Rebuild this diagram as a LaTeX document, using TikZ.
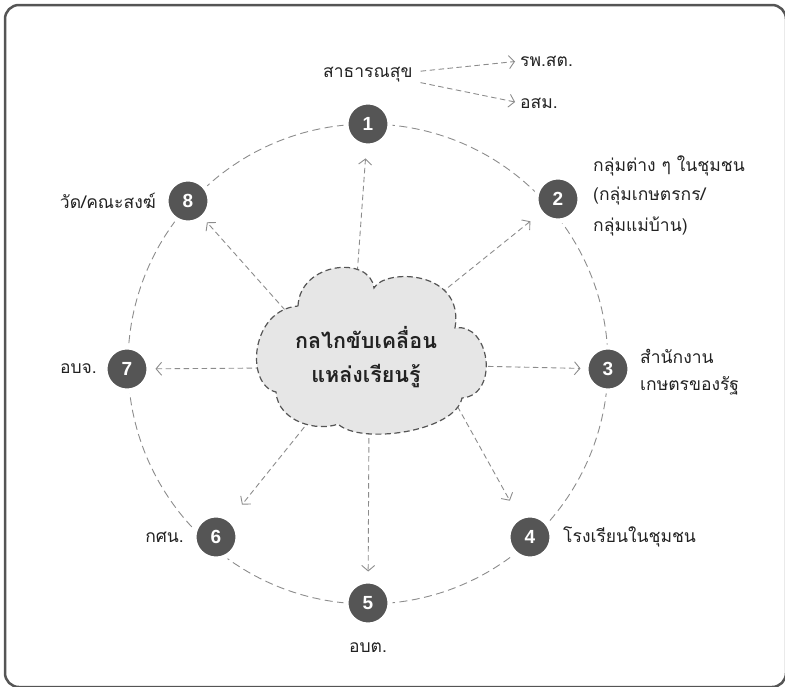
\documentclass[tikz,border=0pt]{standalone}
\usepackage{fontspec}
\setmainfont{Liberation Sans}
\newfontfamily\thai[Script=Thai]{Loma}
\usetikzlibrary{arrows.meta,calc}
\definecolor{dk}{HTML}{555555}
\definecolor{ln}{HTML}{8C8C8C}
\definecolor{cl}{HTML}{E6E6E6}
\definecolor{tx}{HTML}{222222}
\begin{document}
\begin{tikzpicture}[x=1pt,y=-1pt,
  num/.style={circle,fill=dk,draw=white,line width=5pt,minimum size=44pt,inner sep=0pt,text=white,font=\fontsize{19}{19}\selectfont\bfseries},
  lbl/.style={font=\thai\fontsize{17.5}{30}\selectfont,text=tx,inner sep=0pt},
  conn/.style={draw=ln,line width=0.9pt,dash pattern=on 5.5pt off 3.5pt,-{Straight Barb[length=5.5pt,width=13pt]}},
  ring/.style={draw=ln,line width=0.9pt,dash pattern=on 8pt off 4.5pt},
  cloudline/.style={draw=dk,line width=1.2pt,dash pattern=on 6pt off 3.5pt,fill=cl}
]
\useasboundingbox (0,0) rectangle (785,686);
\begin{scope}
\clip (0,0) rectangle (785,686);
\draw[dk,line width=2.5pt,rounded corners=14pt] (5,5) rectangle (786,687);
\end{scope}

% ring
\coordinate (rc) at (368,364);
\draw[ring] (rc) circle[radius=240];

% numbered nodes
\node[num] (n1) at (368,124) {1};
\node[num] (n2) at (558,199) {2};
\node[num] (n3) at (608,369) {3};
\node[num] (n4) at (530,537) {4};
\node[num] (n5) at (368,603) {5};
\node[num] (n6) at (216,537) {6};
\node[num] (n7) at (127,369) {7};
\node[num] (n8) at (188,201) {8};

% connector start points (under the cloud)
\coordinate (s1) at (356,290);
\coordinate (s2) at (420,310);
\coordinate (s3) at (470,366);
\coordinate (s4) at (440,375);
\coordinate (s5) at (369,420);
\coordinate (s6) at (310,420);
\coordinate (s7) at (270,368);
\coordinate (s8) at (285,310);

\draw[conn,shorten >=10pt] (s1) -- (n1);
\draw[conn,shorten >=11pt] (s2) -- (n2);
\draw[conn,shorten >=3pt] (s3) -- (n3);
\draw[conn,shorten >=17pt] (s4) -- (n4);
\draw[conn,shorten >=7pt] (s5) -- (n5);
\draw[conn,shorten >=17pt] (s6) -- (n6);
\draw[conn,shorten >=4pt] (s7) -- (n7);
\draw[conn,shorten >=4pt] (s8) -- (n8);

% cloud
\draw[cloudline] (298,306)
  .. controls (300,262) and (370,255) .. (374,288)
  .. controls (385,268) and (465,270) .. (455,328)
  .. controls (490,322) and (500,395) .. (462,398)
  .. controls (455,432) and (360,445) .. (338,424)
  .. controls (318,432) and (278,422) .. (276,392)
  .. controls (245,385) and (250,310) .. (298,306) -- cycle;
\node[font=\thai\bfseries\fontsize{21.5}{21.5}\selectfont,text=tx,align=center,inner sep=0pt] (c1) at (366,337) {กลไกขับเคลื่อน};
\node[font=\thai\bfseries\fontsize{21.5}{21.5}\selectfont,text=tx,align=center,inner sep=0pt] (c2) at (366,376) {แหล่งเรียนรู้};

% labels
\node[lbl,anchor=west] (ph) at (323,75) {สาธารณสุข};
\node[lbl,anchor=west] (rp) at (520,61) {รพ.สต.};
\node[lbl,anchor=west] (os) at (520,103) {อสม.};
\draw[conn,shorten <=8pt,shorten >=5pt] ($(ph.east)+(0,-3)$) -- (rp.west);
\draw[conn,shorten <=8pt,shorten >=5pt] ($(ph.east)+(0,6)$) -- (os.west);

\node[lbl,anchor=west] (l2a) at (593,166) {กลุ่มต่าง ๆ ในชุมชน};
\node[lbl,anchor=west] (l2b) at (593,196) {(กลุ่มเกษตรกร/};
\node[lbl,anchor=west] (l2c) at (593,226) {กลุ่มแม่บ้าน)};
\node[lbl,anchor=west] (l3a) at (640,356) {สำนักงาน};
\node[lbl,anchor=west] (l3b) at (640,386) {เกษตรของรัฐ};
\node[lbl,anchor=west] (l4) at (563,537) {โรงเรียนในชุมชน};
\node[lbl] (l5) at (368,648) {อบต.};
\node[lbl,anchor=east] (l6) at (184,537) {กศน.};
\node[lbl,anchor=east] (l7) at (97,369) {อบจ.};
\node[lbl,anchor=east] (l8) at (156,201) {วัด/คณะสงฆ์};
\end{tikzpicture}
\end{document}
